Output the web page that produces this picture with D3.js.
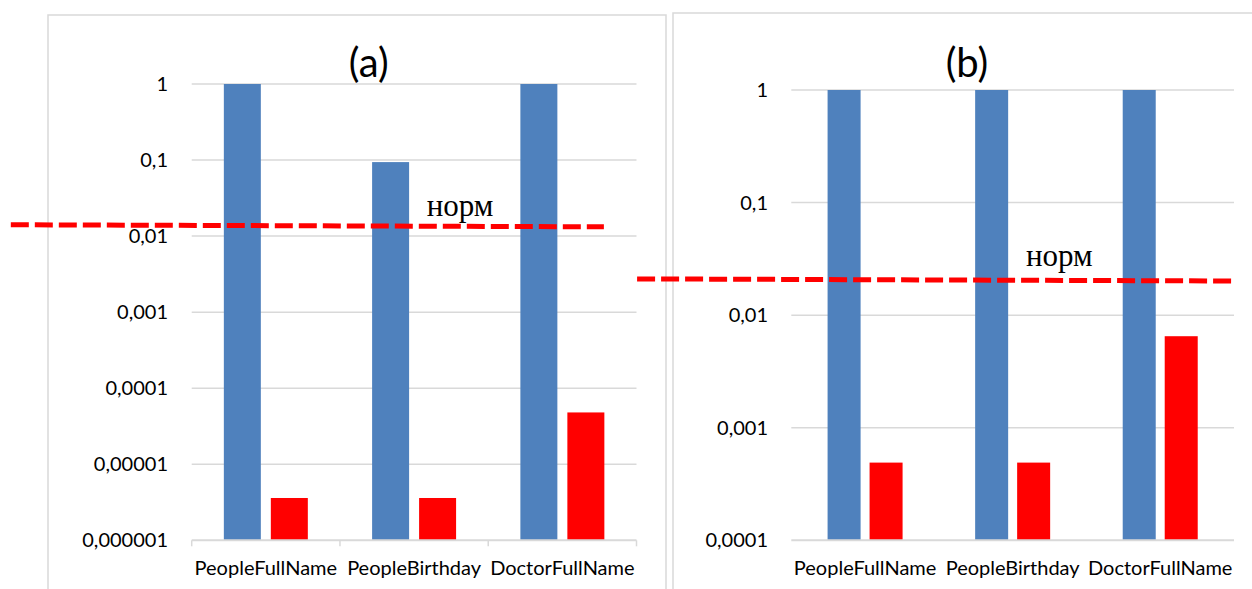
<!DOCTYPE html>
<html>
<head>
<meta charset="utf-8">
<script src="https://cdn.jsdelivr.net/npm/d3@7/dist/d3.min.js"></script>
<style>
  html, body { margin: 0; padding: 0; background: #fff; }
  svg { display: block; }
</style>
</head>
<body>
<svg id="chart" width="1252" height="589"></svg>
<script>
// ---------- DATA ----------
const categories = ["PeopleFullName", "PeopleBirthday", "DoctorFullName"];

const titleA = "(a)";
const blueA = [1, 0.094, 1];
const redA = [3.6e-6, 3.6e-6, 4.8e-5];
const tickValuesA = [1, 0.1, 0.01, 0.001, 0.0001, 0.00001, 0.000001];
const tickLabelsA = ["1", "0,1", "0,01", "0,001", "0,0001", "0,00001", "0,000001"];
const normA = [0.0141, 0.01325];          // dashed threshold line (left end, right end)
const normPosA = [-1.22, 2.78];           // in category units
const normLabelA = { text: "норм", at: 1.585, value: 0.0183 };

const titleB = "(b)";
const blueB = [1, 1, 1];
const redB = [4.9e-4, 4.9e-4, 6.5e-3];
const tickValuesB = [1, 0.1, 0.01, 0.001, 0.0001];
const tickLabelsB = ["1", "0,1", "0,01", "0,001", "0,0001"];
const normB = [0.021, 0.0201];
const normPosB = [-1.045, 2.986];
const normLabelB = { text: "норм", at: 1.59, value: 0.0274 };

// ---------- STYLE / LAYOUT ----------
const BLUE = "#4f81bd", RED = "#ff0000", GRID = "#d9d9d9";
const FONT = "Lato, 'Open Sans', sans-serif";

const svg = d3.select("#chart");

function panel(cfg) {
  const g = svg.append("g");
  // frame
  g.append("rect")
    .attr("x", cfg.frame[0]).attr("y", cfg.frame[1])
    .attr("width", cfg.frame[2]).attr("height", cfg.frame[3])
    .attr("fill", "none").attr("stroke", GRID).attr("stroke-width", 1.5);

  const x = d3.scaleBand().domain(categories).range([cfg.x0, cfg.x1]).padding(0);
  const xc = d3.scaleLinear().domain([0, categories.length]).range([cfg.x0, cfg.x1]);
  const sub = d3.scaleBand().domain(["blue", "red"]).range([0, x.bandwidth()])
    .paddingInner(cfg.pIn).paddingOuter(cfg.pOut);
  const y = d3.scaleLog().domain(cfg.yDomain).range([cfg.yBottom, cfg.yTop]);

  // gridlines
  g.append("g").selectAll("line").data(cfg.ticks.slice(0, -1)).join("line")
    .attr("x1", cfg.x0).attr("x2", cfg.x1)
    .attr("y1", d => y(d)).attr("y2", d => y(d))
    .attr("stroke", GRID).attr("stroke-width", 1.5);

  // y tick labels
  g.append("g").selectAll("text").data(cfg.ticks).join("text")
    .attr("x", cfg.labelX).attr("y", d => y(d))
    .attr("dy", "0.35em").attr("text-anchor", "end")
    .attr("font-family", FONT).attr("font-size", 20).attr("fill", "#000")
    .text((d, i) => cfg.tickLabels[i]);

  // bars
  const series = [["blue", cfg.blue, BLUE], ["red", cfg.red, RED]];
  series.forEach(([key, vals, col]) => {
    g.append("g").selectAll("rect").data(vals).join("rect")
      .attr("x", (d, i) => x(categories[i]) + sub(key))
      .attr("width", sub.bandwidth())
      .attr("y", d => y(d))
      .attr("height", d => y(cfg.yDomain[0]) - y(d))
      .attr("fill", col);
  });

  // x axis line
  g.append("line")
    .attr("x1", cfg.x0).attr("x2", cfg.x1)
    .attr("y1", cfg.yBottom).attr("y2", cfg.yBottom)
    .attr("stroke", GRID).attr("stroke-width", 2);

  if (cfg.xTicks) {
    g.append("g").selectAll("line").data(d3.range(categories.length + 1)).join("line")
      .attr("x1", d => xc(d)).attr("x2", d => xc(d))
      .attr("y1", cfg.yBottom).attr("y2", cfg.yBottom + 6)
      .attr("stroke", GRID).attr("stroke-width", 1.5);
  }

  // category labels
  g.append("g").selectAll("text").data(categories).join("text")
    .attr("x", d => x(d) + x.bandwidth() / 2).attr("y", cfg.catY)
    .attr("text-anchor", "middle")
    .attr("font-family", FONT).attr("font-size", 20).attr("fill", "#000")
    .text(d => d);

  // title
  g.append("text")
    .attr("x", cfg.titleX).attr("y", cfg.titleY)
    .attr("text-anchor", "middle")
    .attr("font-family", FONT).attr("font-size", 40).attr("fill", "#000")
    .text(cfg.title);

  // norm dashed line
  g.append("line")
    .attr("x1", xc(cfg.normPos[0])).attr("x2", xc(cfg.normPos[1]))
    .attr("y1", y(cfg.norm[0])).attr("y2", y(cfg.norm[1]))
    .attr("stroke", RED).attr("stroke-width", 5)
    .attr("stroke-dasharray", "18,6");

  g.append("text")
    .attr("x", xc(cfg.normLabel.at)).attr("y", y(cfg.normLabel.value))
    .attr("font-family", "'Liberation Serif', 'Times New Roman', serif")
    .attr("font-size", 31).attr("fill", "#000")
    .text(cfg.normLabel.text);
}

panel({
  frame: [48, 15, 618, 600],
  x0: 191.7, x1: 636.5, yTop: 84, yBottom: 540.3, yDomain: [1e-6, 1],
  pIn: 0.2128, pOut: 0.684,
  ticks: tickValuesA, tickLabels: tickLabelsA,
  blue: blueA, red: redA, labelX: 168, catY: 575, xTicks: true,
  title: titleA, titleX: 368.7, titleY: 77,
  norm: normA, normPos: normPosA, normLabel: normLabelA
});

panel({
  frame: [673, 13, 620, 600],
  x0: 791.3, x1: 1234, yTop: 90, yBottom: 540.3, yDomain: [1e-4, 1],
  pIn: 0.214, pOut: 0.864,
  ticks: tickValuesB, tickLabels: tickLabelsB,
  blue: blueB, red: redB, labelX: 768, catY: 575, xTicks: false,
  title: titleB, titleX: 967, titleY: 77,
  norm: normB, normPos: normPosB, normLabel: normLabelB
});
</script>
</body>
</html>
